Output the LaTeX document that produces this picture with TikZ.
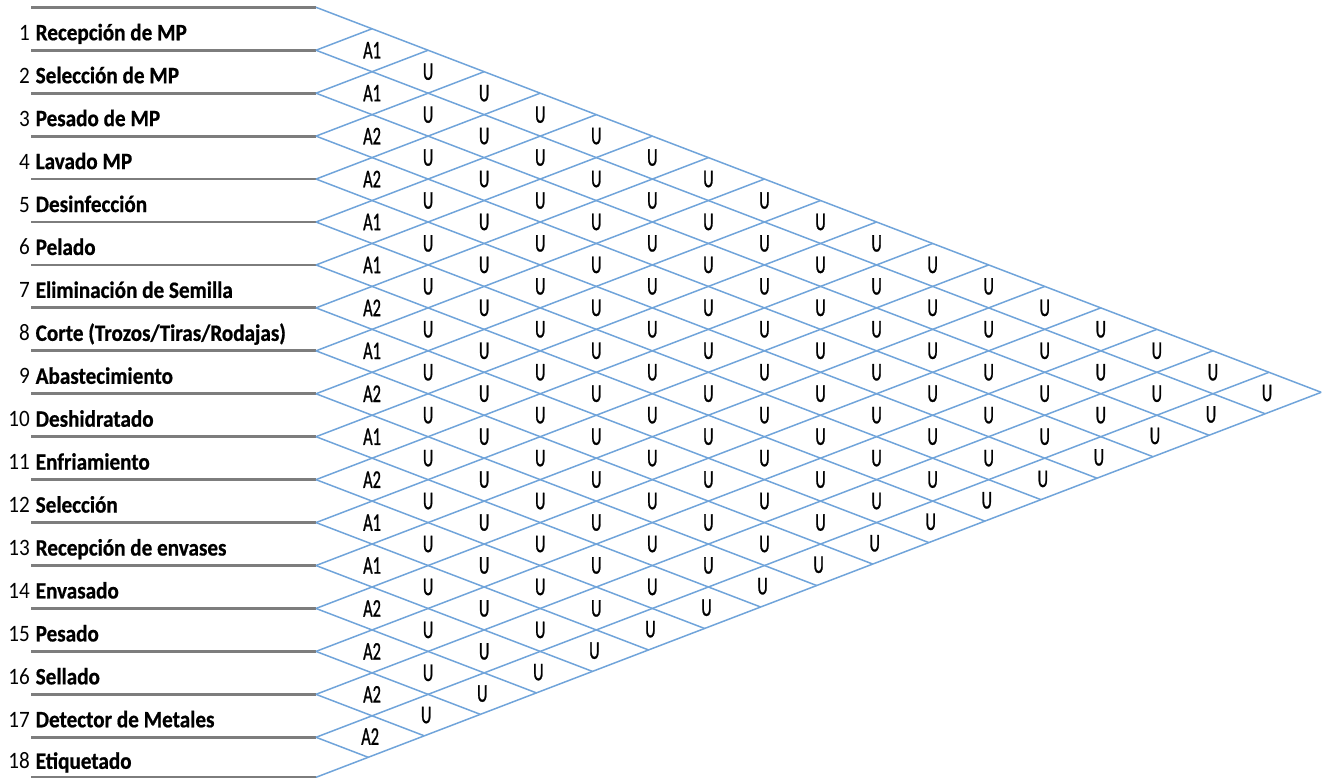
\documentclass[tikz,border=0pt]{standalone}
\usepackage{fontspec}
\setmainfont{Carlito}
\newfontfamily\rowfont[FakeStretch=0.9,BoldFeatures={FakeBold=0.7}]{Carlito}
\newfontfamily\relfont[FakeStretch=0.64,FakeBold=0.9]{Carlito}
\definecolor{gridblue}{RGB}{112,164,218}
\definecolor{rulegray}{RGB}{125,125,125}
\pgfmathdeclarefunction{bb}{1}{\pgfmathparse{min(7.3+#1*42.94,777.3)}}
\pgfmathdeclarefunction{cc}{1}{\pgfmathparse{(bb(#1-1)+bb(#1))/2}}
\begin{document}
\begin{tikzpicture}[x=1pt,y=-1pt,
  rowline/.style={draw=rulegray,line width=2.8pt},
  gridline/.style={draw=gridblue,line width=1.5pt},
  numtext/.style={anchor=base east,inner sep=0pt,font=\rowfont\fontsize{23.5}{28}\selectfont},
  labtext/.style={anchor=base west,inner sep=0pt,font=\rowfont\bfseries\fontsize{23.5}{28}\selectfont},
  reltext/.style={inner sep=0pt,font=\relfont\fontsize{25.5}{30}\selectfont}]
\def\xo{316}
\def\tw{0.766}
\useasboundingbox (0,0) rectangle (1327,778);
\clip (0,0) rectangle (1327,778);
% left edge points and horizontal rules
\foreach \k in {0,...,18}{
  \pgfmathsetmacro\yb{bb(\k)}
  \coordinate (b\k) at (\xo,\yb);
  \coordinate (l\k) at (31,\yb);
  \draw[rowline] (l\k) -- (b\k);
}
% end points on the outer edges
\pgfmathsetmacro\btop{bb(0)}
\pgfmathsetmacro\bbot{bb(18)}
\foreach \k in {0,...,18}{
  \pgfmathsetmacro\yb{bb(\k)}
  \coordinate (d\k) at ({\xo+(\bbot-\yb)/\tw},{(\yb+\bbot)/2});
  \coordinate (u\k) at ({\xo+(\yb-\btop)/\tw},{(\yb+\btop)/2});
}
% diagonal grid
\foreach \k in {0,...,17}{ \draw[gridline] (b\k) -- (d\k); }
\foreach \k in {1,...,18}{ \draw[gridline] (b\k) -- (u\k); }
% row labels
\foreach \t [count=\k] in {Recepción de MP,Selección de MP,Pesado de MP,Lavado MP,Desinfección,Pelado,Eliminación de Semilla,{Corte (Trozos/Tiras/Rodajas)},Abastecimiento,Deshidratado,Enfriamiento,Selección,Recepción de envases,Envasado,Pesado,Sellado,Detector de Metales,Etiquetado}{
  \pgfmathsetmacro\yl{cc(\k)+11.5}
  \node[numtext] (n\k) at (30,\yl) {\k};
  \node[labtext] (t\k) at (35.5,\yl) {\t};
}
% adjacent relations
\foreach \a [count=\i] in {A1,A1,A2,A2,A1,A1,A2,A1,A2,A1,A2,A1,A1,A2,A2,A2,A2}{
  \pgfmathtruncatemacro\j{\i+1}
  \pgfmathsetmacro\ci{cc(\i)}
  \pgfmathsetmacro\cj{cc(\j)}
  \node[reltext] (p-\i-\j) at ({\xo+(\cj-\ci)/\tw},{(\ci+\cj)/2}) {\a};
}
% remaining relations
\foreach \i in {1,...,16}{
  \pgfmathtruncatemacro\js{\i+2}
  \foreach \j in {\js,...,18}{
    \pgfmathsetmacro\ci{cc(\i)}
    \pgfmathsetmacro\cj{cc(\j)}
    \node[reltext] (p-\i-\j) at ({\xo+(\cj-\ci)/\tw},{(\ci+\cj)/2}) {U};
  }
}
\end{tikzpicture}
\end{document}
